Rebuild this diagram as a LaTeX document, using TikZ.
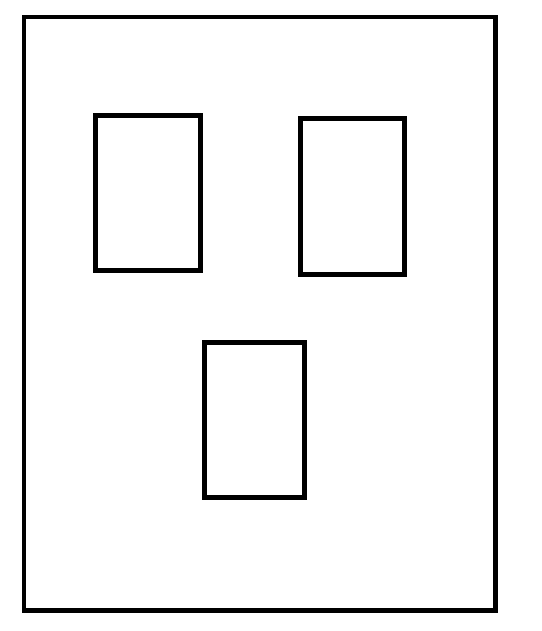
\documentclass[tikz,border=0pt]{standalone}
\begin{document}
\begin{tikzpicture}[x=1pt,y=-1pt,
  frame/.style={draw=black,line width=4.5pt,line join=miter},
  pane/.style={draw=black,line width=5pt,line join=miter}]
\useasboundingbox (0,0) rectangle (541,631);
\fill[white] (0,0) rectangle (541,631);
% outer sheet
\draw[frame] (24,17) rectangle (495.5,610.5);
% three inner rectangles
\draw[pane] (95,116) rectangle (200,270);
\draw[pane] (300.5,119) rectangle (404,274);
\draw[pane] (204,342) rectangle (304.5,497);
\end{tikzpicture}
\end{document}
